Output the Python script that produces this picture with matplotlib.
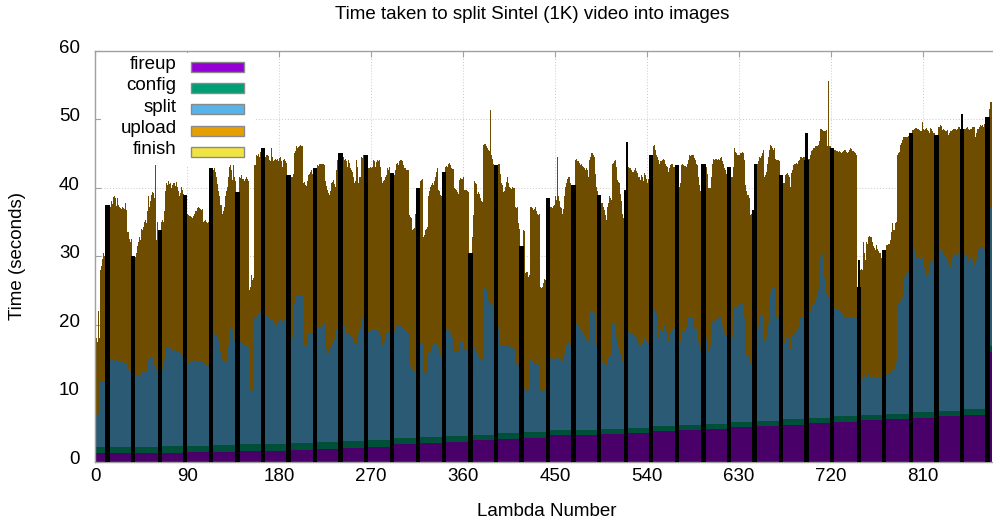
import numpy as np
import matplotlib
matplotlib.use("Agg")
import matplotlib.pyplot as plt
from matplotlib.patches import Rectangle
import matplotlib.transforms as mtransforms

plt.rcParams['font.family'] = ['Liberation Sans', 'DejaVu Sans']

# ---------------- data ----------------
# cumulative top of the "split" layer (fireup + config + split), one value per lambda
top_split = [
 6.8,6.8,6.9,7.0,6.8,11.6,11.7,11.8,11.9,11.6,11.8, 14.6,14.6,14.6,
 15.2,14.9,14.7,14.8,14.6,14.7,14.5,14.8,14.6,14.7,14.5,14.6,14.4,14.6,14.5,14.3,14.5,14.2,13.3,13.2,13.1,13.3, 13.0,13.0,13.0,
 12.4,12.6,12.3,12.5,12.4,12.7,12.6,13.0,13.1,13.0,12.9,13.2,13.4,15.0,14.8,15.3,15.5,15.2,14.8,14.0,16.3,13.5,14.0, 13.6,13.6,13.6,
 13.6,13.5,13.8,15.0,16.2,16.5,16.3,16.6,16.4,16.5,16.2,16.0,16.3,16.1,16.0,16.0,16.2,15.9,15.8,15.6,15.5,15.7, 14.5,14.5,14.5,
 14.3,14.4,14.5,14.6,14.8,14.7,14.6,14.8,14.7,14.6,14.5,14.6,14.7,14.5,14.4,14.6,14.3,14.2,14.3,14.1,14.2,14.0, 18.7,18.7,18.7,
 18.7,18.8,18.6,18.7,18.5,18.2,17.9,17.7,16.0,14.8,14.3,14.5,14.6,14.7,14.9,17.0,19.2,19.7,19.5,19.2,19.0,17.7,17.6, 17.6,17.6,17.6,
 17.7,17.6,17.8,17.2,17.0,16.8,16.9,16.8,16.7,16.6,10.4,10.5,10.4,10.3,10.5,20.9,21.1,21.0,21.2,21.5,21.1,22.0, 21.0,21.0,21.0,
 20.9,21.0,21.2,21.0,20.9,20.8,20.9,20.6,20.4,20.2,20.1,20.0,20.3,20.5,20.7,20.6,20.7,20.5,20.7,20.8,20.6,20.5, 18.2,18.2,18.2,
 18.2,18.0,18.1,18.0,23.1,23.5,24.1,24.0,24.2,24.1,24.3,24.1,24.2,17.3,17.0,16.8,16.9,17.5,18.7,18.5,18.7,18.8,18.6, 19.5,19.5,19.5,
 19.7,19.6,19.7,19.5,19.6,20.0,20.2,20.1,17.3,16.3,15.5,15.7,16.0,16.6,17.0,17.1,17.3,17.8,18.2,19.2,20.2,20.1, 20.3,20.3,20.3,
 20.4,20.2,19.8,19.4,18.7,18.6,18.7,18.5,18.3,18.2,18.0,17.6,17.3,17.2,17.1,17.5,18.7,19.5,21.1,21.0,21.2,21.1, 19.0,19.0,19.0,
 19.0,19.0,19.1,19.2,19.2,19.3,19.4,19.3,19.2,19.0,19.1,18.7,18.5,17.5,17.0,17.3,17.5,18.0,18.6,19.2,19.0,19.0, 18.5,18.5,18.5,
 18.2,19.0,19.9,19.9,19.8,19.9,19.8,19.9,19.8,19.6,19.5,19.3,19.2,19.0,18.7,14.1,14.0,13.8,13.4,13.2,13.1,13.0,13.1, 17.0,17.0,17.0,
 17.3,17.4,17.3,12.9,12.8,12.9,13.0,13.1,15.8,15.9,16.0,16.5,16.8,17.3,17.2,17.1,17.3,17.2,16.5,15.8,15.6,15.5, 18.5,18.5,18.5,
 19.2,19.3,19.2,19.2,19.0,18.8,18.3,18.0,16.0,16.1,16.0,16.2,16.1,17.5,17.6,17.7,17.6,17.5,16.3,16.4,16.3,16.2,16.3, 12.5,12.5,12.5,
 12.4,13.0,16.5,16.3,16.0,15.8,15.5,15.0,14.8,14.9,15.0,25.5,25.3,25.2,25.0,24.5,23.6,23.4,23.2,23.0,22.8,22.6, 20.0,20.0,20.0,
 19.7,19.5,17.0,16.8,16.9,16.7,16.8,16.9,16.8,17.0,16.8,16.6,16.5,16.6,16.5,16.4,16.3,14.3,14.2,14.1,14.0,13.9, 12.0,12.0,12.0,
 10.9,10.9,10.2,10.3,10.2,10.5,10.6,14.8,14.7,14.6,14.3,14.4,14.3,14.2,14.1,14.0,14.1,10.4,10.3,10.2,10.4,10.4,10.3, 15.0,15.0,15.0,
 15.3,15.2,15.0,14.8,14.9,15.0,15.2,20.9,15.3,15.1,14.8,14.7,14.6,15.0,15.8,16.3,16.8,17.5,17.4,17.5,17.0,16.8, 18.0,18.0,18.0,
 20.2,20.1,20.0,19.9,19.6,19.4,19.2,19.0,18.7,18.4,18.0,17.7,17.6,17.5,20.0,21.9,21.9,21.8,21.5,17.0,16.8,16.6, 15.0,15.0,15.0,
 14.6,14.7,14.5,14.4,14.2,14.1,14.9,15.3,15.6,15.5,15.3,20.2,20.3,20.2,20.1,18.0,16.8,16.5,16.2,15.8,15.2,14.6,14.5, 18.0,18.0,18.0,
 19.2,19.1,19.0,18.8,18.7,18.6,18.5,18.4,18.3,18.0,17.7,17.3,17.0,17.5,17.3,17.2,18.0,17.5,17.4,17.4,17.3,17.2, 20.0,20.0,20.0,
 22.1,22.2,22.0,21.6,17.5,18.0,18.2,19.2,19.3,19.0,20.2,20.0,19.5,19.0,18.7,17.5,18.0,18.7,19.0,19.2,19.4,19.5, 18.0,18.0,18.0,
 16.3,16.3,17.5,19.2,19.1,19.0,18.9,19.5,20.5,21.1,21.2,21.1,21.1,21.0,20.5,19.7,19.6,19.4,19.0,17.5,16.3,16.3,16.2, 18.0,18.0,18.0,
 18.0,18.0,17.0,16.0,16.4,16.8,18.5,20.4,20.4,20.3,20.5,20.7,20.8,21.0,21.1,21.0,20.9,19.8,19.2,18.7,18.6,18.5, 18.0,18.0,18.0,
 18.0,18.2,20.0,22.4,22.5,22.4,22.5,22.8,23.0,23.1,23.1,23.2,23.2,21.0,15.5,15.5,15.5,15.4,15.3,14.3,14.3,14.4, 14.4,14.4,18.0,
 18.0,18.0,19.5,21.4,21.3,21.2,21.3,21.2,17.5,17.8,18.2,19.5,20.2,22.5,24.6,25.2,25.3,25.3,25.3,21.1,21.1,21.0,21.0, 17.0,17.0,17.0,
 17.0,17.1,18.0,18.0,18.0,18.0,17.8,16.3,18.0,18.3,18.7,18.8,19.0,19.1,19.2,19.7,20.2,20.9,20.9,20.9,20.9,20.9, 21.0,21.0,21.0,
 21.4,21.4,22.0,22.6,22.9,22.9,23.2,23.6,24.0,24.6,25.0,25.3,29.9,30.2,30.4,29.5,27.0,24.6,24.0,24.0,24.0,24.0, 22.0,22.0,22.0,
 22.4,22.4,22.3,22.4,22.3,22.2,22.0,21.8,21.5,21.3,21.1,21.1,20.9,21.0,21.1,21.1,21.1,21.0,20.9,20.9,21.0,21.1,21.1, 11.0,11.0,11.0,
 11.4,11.6,11.9,12.4,12.5,12.6,12.4,12.7,12.9,12.8,12.4,12.4,12.2,12.2,12.1,12.3,12.4,12.4,12.5,12.4,12.4,12.5, 12.5,12.5,12.5,
 12.6,12.6,12.8,12.8,12.9,13.2,13.4,13.6,13.5,13.6,14.5,21.6,23.1,23.0,23.4,23.6,24.0,26.7,26.8,27.0,27.3,27.5,27.7, 28.0,28.0,28.0,
 30.9,31.0,31.0,30.6,29.9,29.9,29.9,29.6,30.0,29.9,29.0,28.4,27.0,27.2,27.5,27.5,27.8,29.2,29.2,29.3,29.0,29.3, 29.5,29.5,29.5,
 30.4,30.5,30.9,30.9,30.7,30.4,30.2,29.9,29.7,29.4,28.9,28.6,28.4,29.5,29.9,30.1,30.4,30.3,30.1,30.3,30.4,30.4, 30.0,30.0,30.0,
 30.4,30.4,30.0,29.7,29.2,29.5,29.9,29.7,29.5,29.0,28.7,28.4,29.5,30.2,30.9,31.0,31.2,31.3,31.1,31.0,30.9,31.0, 31.0,31.0,31.0,
 35.0,37.2,37.2,
]

# cumulative top of the whole stack (total time), one value per lambda
top_total = [
 17.5,18.0,17.5,22.0,18.0,28.0,28.5,29.5,30.5,30.0,29.5, 37.4,37.4,37.4,
 37.5,37.2,38.0,37.6,38.6,38.8,38.5,37.3,38.5,37.5,37.2,37.0,36.8,37.1,37.0,36.9,37.8,36.7,33.5,32.5,32.0,32.5, 30.0,30.0,30.0,
 29.9,30.5,31.4,32.0,32.8,32.3,34.0,33.8,34.2,35.0,35.3,34.8,36.5,38.7,37.2,38.0,38.9,39.4,39.2,38.5,43.5,32.3,35.0, 33.8,33.8,33.8,
 35.0,35.2,35.0,36.5,39.5,40.6,40.3,40.9,40.5,40.6,40.0,40.4,40.6,40.2,40.8,40.1,39.5,38.7,39.2,40.1,39.6,39.1, 38.9,38.9,38.9,
 36.2,36.0,35.9,35.8,35.7,35.6,35.9,36.2,36.5,36.6,37.0,37.2,37.0,36.8,36.7,36.9,35.0,35.1,35.3,35.0,34.8,35.0, 42.8,42.8,42.8,
 42.8,42.6,42.8,42.3,41.6,40.5,39.5,38.7,37.5,36.2,36.5,37.2,38.7,39.5,40.1,41.5,43.0,43.3,42.5,41.1,44.0,41.5,41.0, 39.4,39.4,39.4,
 41.6,41.4,41.8,41.3,41.2,41.0,41.3,41.5,41.2,41.0,25.0,25.5,27.2,26.5,26.8,44.7,44.5,44.8,44.6,44.9,44.5,45.2, 45.7,45.7,45.7,
 44.2,44.4,44.7,44.6,44.0,43.8,45.7,44.5,43.9,44.0,44.1,44.0,44.2,43.8,44.3,44.4,43.8,43.0,44.0,44.2,43.8,43.6, 41.8,41.8,41.8,
 41.6,41.5,41.6,42.0,45.0,45.3,46.0,45.8,45.9,46.0,46.2,46.0,46.1,40.6,40.8,40.4,40.2,41.0,41.8,41.9,42.3,42.5,42.0, 42.8,42.8,42.8,
 43.3,43.2,43.4,43.5,43.4,43.5,43.4,43.3,40.9,40.2,39.6,39.2,38.9,39.5,40.6,40.8,41.1,40.5,40.1,42.5,44.0,43.0, 45.0,45.0,45.0,
 44.5,44.5,44.0,44.2,43.8,43.0,44.0,43.6,42.8,42.5,42.3,41.5,40.6,41.0,44.0,43.0,40.6,41.5,44.5,44.3,44.7,44.7, 44.7,44.7,44.7,
 42.8,42.8,43.0,42.8,43.0,44.0,43.8,43.0,43.7,44.0,43.8,44.0,43.0,41.5,40.6,41.0,41.1,41.6,41.8,42.8,42.6,43.0, 42.1,42.1,42.1,
 41.6,41.8,42.5,43.5,43.6,43.3,43.8,44.0,44.0,43.9,43.3,42.8,42.8,42.5,42.6,36.0,35.7,35.5,33.8,34.0,34.1,36.2,36.0, 40.0,40.0,40.0,
 41.0,41.1,41.3,32.8,33.0,33.8,34.0,34.2,38.7,39.5,40.1,40.4,40.6,40.4,40.9,41.6,42.2,42.8,39.6,39.5,38.9,38.7, 42.3,42.3,42.3,
 43.0,43.2,43.0,43.5,43.6,43.3,42.8,42.7,39.9,39.8,39.6,39.3,39.1,41.1,41.4,41.3,41.3,41.5,39.6,39.7,39.6,39.5,39.4, 30.5,30.5,30.5,
 32.8,36.0,40.9,40.7,40.5,39.1,39.3,39.0,38.4,38.0,37.9,46.2,46.4,46.3,46.0,45.7,45.5,45.3,51.3,44.7,44.2,43.5, 43.3,43.3,43.3,
 43.3,43.5,42.0,40.6,40.4,39.3,39.5,40.1,40.8,41.6,40.6,40.1,39.9,39.8,40.1,39.9,40.0,37.2,37.0,37.2,34.8,34.0, 31.5,31.5,31.5,
 33.8,33.6,27.5,27.6,27.7,27.0,27.2,37.2,37.1,37.0,36.7,36.9,37.2,36.5,36.2,36.0,36.1,25.5,25.4,25.5,26.0,26.7,26.5, 38.5,38.5,38.5,
 37.2,37.2,37.0,37.3,37.5,38.7,38.2,44.5,38.7,38.0,37.2,37.0,36.2,36.8,38.7,40.1,40.6,41.3,41.5,41.6,40.6,40.4, 40.4,40.4,40.4,
 44.0,44.1,43.9,43.8,43.6,43.3,43.4,43.2,43.0,42.8,42.6,42.8,42.5,41.6,44.0,44.5,45.0,44.8,44.5,42.0,40.1,39.5, 38.9,38.9,38.9,
 37.7,37.8,37.2,36.7,36.0,35.3,37.2,37.8,38.7,38.5,38.2,43.5,43.6,43.8,44.0,43.0,41.1,40.8,40.6,39.1,38.0,36.2,35.5, 39.6,39.6,46.7,
 43.0,43.0,42.9,42.8,42.5,42.3,42.3,42.5,42.8,42.4,42.1,41.5,41.1,41.8,41.5,40.9,42.1,41.8,41.3,40.6,41.2,41.6, 44.7,44.7,44.7,
 46.0,46.2,45.5,44.7,44.5,44.0,43.5,43.8,43.8,44.0,44.2,44.0,43.5,43.2,43.0,42.3,42.8,43.3,43.4,43.5,43.0,43.0, 43.3,43.3,43.3,
 40.1,40.1,40.6,43.3,43.4,43.3,43.1,43.0,43.5,44.0,44.7,44.6,44.7,44.8,44.7,44.3,44.0,43.5,43.3,41.5,40.4,39.5,38.9, 43.5,43.5,43.5,
 43.3,43.0,42.0,39.9,39.9,40.0,41.6,43.5,44.2,44.0,44.1,44.2,44.0,44.1,44.0,44.3,44.5,43.8,43.5,42.8,42.5,42.0, 43.0,43.0,43.0,
 41.6,41.5,43.0,45.7,45.2,45.0,44.7,44.8,44.7,45.0,45.1,45.2,45.0,44.0,40.4,39.5,38.9,38.9,38.5,36.0,36.1,36.2, 36.7,36.7,43.5,
 43.5,43.5,43.8,44.5,44.3,44.6,45.0,45.5,41.6,41.8,42.3,43.5,44.5,45.5,46.2,46.0,45.7,45.5,45.7,44.2,44.0,44.0,43.8, 41.8,41.8,41.8,
 40.6,40.7,41.8,41.9,42.1,41.8,41.5,40.1,42.1,42.5,43.3,43.4,43.5,43.6,43.5,43.8,44.0,44.5,44.5,44.3,44.4,44.5, 44.0,48.0,44.0,
 44.2,44.2,44.8,45.3,45.5,45.7,45.8,46.0,46.0,46.1,46.2,46.8,48.6,48.5,48.4,48.2,48.3,48.4,46.0,55.5,46.0,46.0, 45.7,45.7,45.7,
 45.5,45.5,45.4,45.3,45.2,45.3,45.2,45.1,45.2,45.4,45.5,45.5,45.2,45.0,45.2,45.5,45.7,45.6,45.4,45.3,45.2,45.0,44.7, 25.5,29.4,25.5,
 28.0,28.1,28.0,32.1,30.5,29.4,32.0,31.8,32.8,32.9,32.8,32.0,31.4,31.2,30.9,31.6,31.0,30.7,30.5,30.4,29.7,29.8, 30.9,30.9,30.9,
 31.6,31.6,31.8,31.8,32.3,33.5,34.8,33.8,33.8,34.8,35.0,44.7,45.0,45.2,46.2,46.5,46.9,47.4,47.3,47.4,47.4,47.4,47.5, 47.9,47.9,47.9,
 48.4,48.4,48.6,48.7,48.7,48.6,48.4,48.3,48.2,49.6,48.6,48.4,48.5,48.7,48.4,48.2,47.9,48.7,48.5,48.2,48.0,48.0, 47.7,47.7,47.7,
 48.9,48.9,49.1,49.0,48.4,48.5,48.4,48.2,48.3,48.4,47.7,48.0,48.2,48.3,48.4,48.6,48.5,48.6,48.4,48.6,48.9,48.9, 48.6,50.8,48.6,
 48.6,48.6,48.7,48.9,48.6,48.4,48.6,48.6,48.9,48.8,48.9,47.4,48.0,48.6,48.6,48.8,49.1,49.0,49.1,48.9,49.2,49.4, 50.3,50.3,50.3,
 51.5,52.5,52.5,
]

# fireup / config / finish times are step-like: one value per block of lambdas
group_start = [0, 14, 39, 65, 90, 115, 141, 166, 191, 217, 242, 267, 292, 318, 343, 369, 394, 419,
               445, 470, 495, 521, 546, 571, 597, 622, 647, 673, 698, 723, 749, 774, 800, 825, 850, 875]
fireup_group = [1.2, 1.2, 1.25, 1.3, 1.35, 1.45, 1.55, 1.6, 1.7, 1.8, 1.9, 2.1, 2.6, 2.7, 2.9, 3.1, 3.3, 3.5,
                3.8, 3.9, 4.0, 4.2, 4.4, 4.6, 4.8, 5.0, 5.2, 5.4, 5.6, 5.8, 6.0, 6.2, 6.4, 6.6, 6.8, 16.0]
config_group = [0.9, 0.9, 0.9, 0.9, 0.95, 1.0, 1.0, 1.0, 1.05, 1.05, 1.05, 1.0, 0.9, 0.85, 0.8, 0.8, 0.8, 0.8,
                0.8, 0.75, 0.75, 0.75, 0.75, 0.75, 0.7, 0.7, 0.75, 0.8, 0.8, 0.8, 0.8, 0.8, 0.8, 0.8, 0.8, 0.8]
finish_group = [0.0, 0.0, 0.0, 0.0, 0.0, 0.0, 0.0, 0.0, 0.0, 0.0, 0.0, 0.0, 0.0, 0.0, 0.0, 0.0, 0.0, 0.0,
                0.0, 0.0, 0.0, 0.0, 0.0, 0.0, 0.0, 0.0, 0.0, 0.0, 0.0, 0.0, 0.0, 0.0, 0.0, 0.0, 0.0, 0.0]

# dark vertical bands visible in the rendering (centre lambda of each band)
stripe_center = [12, 37, 63, 88, 113, 139, 164, 189, 215, 240, 265, 290, 316, 341, 367, 392, 417, 443,
                 468, 493, 519, 544, 569, 595, 620, 645, 671, 696, 721, 747, 772, 798, 823, 848, 873]

series_labels = ['fireup', 'config', 'split', 'upload', 'finish']
xtick_values = [0, 90, 180, 270, 360, 450, 540, 630, 720, 810]
ytick_values = [0, 10, 20, 30, 40, 50, 60]

# ---------------- derive the stacked layers ----------------
N = len(top_total)
top_total = np.array(top_total)
top_split = np.array(top_split)
lengths = np.diff(group_start + [N])
fireup = np.repeat(fireup_group, lengths)
config = np.repeat(config_group, lengths)
finish = np.repeat(finish_group, lengths)
split = top_split - fireup - config
upload = top_total - top_split
x = np.arange(N)

# ---------------- figure ----------------
W, H = 993, 525
fig = plt.figure(figsize=(W / 100, H / 100), dpi=100)
ax_l, ax_r, ax_t, ax_b = 95.0, 995.0, 50.5, 461.5
ax = fig.add_axes([ax_l / W, 1 - ax_b / H, (ax_r - ax_l) / W, (ax_b - ax_t) / H])

px_per_unit = 1.022
x0 = 95.3
ax.set_xlim((ax_l - x0) / px_per_unit, (ax_r - x0) / px_per_unit)
ax.set_ylim(0, 60)

dark_cols = ['#4a0069', '#004f39', '#2b5a74', '#6e4d00', '#78711f']
light_cols = ['#9400d3', '#009e73', '#56b4e9', '#e69f00', '#f0e442']

bottom = np.zeros(N)
for vals, col, lab in zip([fireup, config, split, upload, finish], dark_cols, series_labels):
    ax.bar(x, vals, width=1.0, bottom=bottom, color=col, linewidth=0,
           antialiased=False, zorder=2, label=lab)
    bottom = bottom + vals

dark_idx = np.array([i for s in stripe_center for i in (s - 1, s, s + 1) if 0 <= i < N])
ax.bar(dark_idx, top_total[dark_idx], width=2.2, color='black', linewidth=0,
       antialiased=False, zorder=3)

# axes styling
ax.set_axisbelow(True)
ax.grid(True, color='#c8c8c8', linestyle=(0, (1, 2)), linewidth=0.7)
for side in ['left', 'bottom', 'top']:
    ax.spines[side].set_color('#a0a0a0')
    ax.spines[side].set_linewidth(1.0)
ax.spines['right'].set_visible(False)

ax.set_xticks(xtick_values)
ax.set_yticks(ytick_values)
ax.tick_params(axis='both', direction='in', length=4, width=0.8, color='#a0a0a0',
               labelsize=13.5, labelcolor='black')
ax.tick_params(axis='x', top=True, pad=5)
ax.tick_params(axis='y', pad=11)
offset = mtransforms.ScaledTranslation(0, 4.5 / 100, fig.dpi_scale_trans)
for lbl in ax.get_yticklabels():
    lbl.set_transform(lbl.get_transform() + offset)

# legend (gnuplot style: label right-aligned, swatch on the right)
fig.patches.append(Rectangle((101 / W, 1 - 165 / H), 155 / W, 112 / H,
                             transform=fig.transFigure, facecolor='white',
                             edgecolor='none', zorder=5))
for i, (lab, col) in enumerate(zip(series_labels, light_cols)):
    base = 69.0 + i * 21.3
    fig.text(176.5 / W, 1 - base / H, lab, ha='right', va='baseline',
             fontsize=13.5, zorder=6)
    box_top = base - 7.3
    fig.patches.append(Rectangle((191 / W, 1 - (box_top + 10) / H), 53 / W, 10 / H,
                                 transform=fig.transFigure, facecolor=col,
                                 edgecolor='#8a8a8a', linewidth=1.0, zorder=6))

# titles
fig.text(532.5 / W, 1 - 14.5 / H, 'Time taken to split Sintel (1K) video into images',
         ha='center', va='center', fontsize=13.5)
fig.text(547 / W, 1 - 511 / H, 'Lambda Number', ha='center', va='center', fontsize=13.5)
fig.text(18 / W, 1 - 256 / H, 'Time (seconds)', ha='center', va='center',
         rotation=90, fontsize=13.5)

fig.savefig('out.png', dpi=100)
